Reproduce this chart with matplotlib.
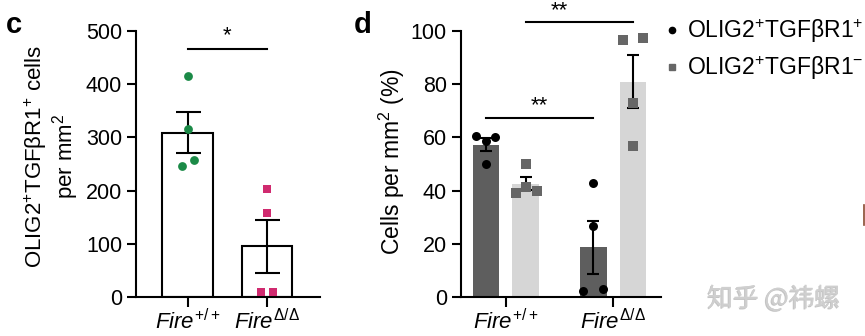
import matplotlib
matplotlib.use("Agg")
import matplotlib.pyplot as plt
import matplotlib.patheffects as pe
import numpy as np
from matplotlib.lines import Line2D

plt.rcParams['font.family'] = ['Liberation Sans', 'DejaVu Sans']
plt.rcParams['mathtext.fontset'] = 'custom'
plt.rcParams['mathtext.rm'] = 'Liberation Sans'
plt.rcParams['mathtext.it'] = 'Liberation Sans:italic'
plt.rcParams['mathtext.bf'] = 'Liberation Sans:bold'

# ---- data: panel c ----
genotypes = [r"$\mathit{Fire}^{+/+}$", r"$\mathit{Fire}^{\Delta/\Delta}$"]
c_wt = [416, 315, 257, 247]
c_ko = [203, 157, 10, 10]
c_jitter = [[0, 0, 0.08, -0.075], [0, 0, -0.075, 0.075]]
c_yticks = [0, 100, 200, 300, 400, 500]

# ---- data: panel d ----
d_pos_wt = [60.5, 58.5, 60.0, 50.0]      # OLIG2+TGFbR1+ , Fire+/+
d_neg_wt = [50.0, 41.3, 39.0, 40.0]      # OLIG2+TGFbR1- , Fire+/+
d_pos_ko = [42.7, 26.8, 2.1, 2.9]        # OLIG2+TGFbR1+ , Fire d/d
d_neg_ko = [96.6, 97.5, 72.8, 56.9]      # OLIG2+TGFbR1- , Fire d/d
d_jitter = [[-0.095, 0, 0.085, 0], [0, 0, -0.095, 0.1],
            [0, 0, -0.095, 0.088], [-0.095, 0.088, 0, 0]]
d_yticks = [0, 20, 40, 60, 80, 100]
legend_labels = [r"OLIG2$^{+}$TGFβR1$^{+}$", r"OLIG2$^{+}$TGFβR1$^{-}$"]


def sem(v):
    v = np.asarray(v, float)
    return v.std(ddof=1) / np.sqrt(len(v))


W, H = 865, 336
fig = plt.figure(figsize=(W / 100, H / 100), dpi=100)
fs_tick = 15.5
fs_x = 16
fs_lab = 16
lw = 1.5


def style_axes(ax, yticks):
    for s in ['top', 'right']:
        ax.spines[s].set_visible(False)
    for s in ['left', 'bottom']:
        ax.spines[s].set_linewidth(lw)
    ax.set_yticks(yticks)
    ax.tick_params(axis='y', width=lw, length=6.5, labelsize=fs_tick, pad=3.5)
    ax.tick_params(axis='x', width=lw, length=7, labelsize=fs_x, pad=1.5)


# ---------------- panel c ----------------
axc = fig.add_axes([136 / W, 1 - 297 / H, (320 - 136) / W, (297 - 31) / H])
groups_c = [c_wt, c_ko]
colors_c = ['#1b8a47', '#d02a6f']
markers_c = ['o', 's']
xs = np.arange(2)
for i, vals in enumerate(groups_c):
    m = np.mean(vals)
    axc.bar(xs[i], m, width=0.63, facecolor='white', edgecolor='black',
            linewidth=lw, zorder=1)
    axc.errorbar(xs[i], m, yerr=sem(vals), color='black', capsize=9,
                 capthick=lw, elinewidth=lw, zorder=2)
    axc.scatter(xs[i] + np.array(c_jitter[i]), vals, s=40,
                marker=markers_c[i], color=colors_c[i], linewidths=0, zorder=3)
axc.set_xlim(-0.648, 1.667)
axc.set_ylim(0, 500)
axc.set_xticks(xs)
axc.set_xticklabels(genotypes)
style_axes(axc, c_yticks)
fig.text(52 / W, 1 - 156 / H, "OLIG2$^{+}$TGFβR1$^{+}$ cells\nper mm$^{2}$",
         fontsize=fs_lab, rotation=90, ha='center', va='center',
         multialignment='center', linespacing=1.05)
axc.plot([0, 1], [467, 467], color='black', lw=lw, clip_on=False)
axc.text(0.5, 471, "*", ha='center', va='bottom', fontsize=fs_lab)

# ---------------- panel d ----------------
axd = fig.add_axes([460.7 / W, 1 - 297 / H, 200 / W, (297 - 31) / H])
off = 0.185
bw = 0.249
dark, light = '#5e5e5e', '#d6d6d6'
series = [(0 - off, d_pos_wt, dark, 'o', 'black'),
          (0 + off, d_neg_wt, light, 's', '#666666'),
          (1 - off, d_pos_ko, dark, 'o', 'black'),
          (1 + off, d_neg_ko, light, 's', '#666666')]
for j, (x, vals, bc, mk, mc) in enumerate(series):
    m = np.mean(vals)
    axd.bar(x, m, width=bw, color=bc, linewidth=0, zorder=1)
    axd.errorbar(x, m, yerr=sem(vals), color='black', capsize=4.5,
                 capthick=lw, elinewidth=lw, zorder=2)
    axd.scatter(x + np.array(d_jitter[j]), vals, s=42, marker=mk, color=mc,
                linewidths=0, zorder=3, clip_on=False)
axd.set_xlim(-0.422, 1.442)
axd.set_ylim(0, 100)
axd.set_xticks(xs)
axd.set_xticklabels(genotypes)
style_axes(axd, d_yticks)
fig.text(392 / W, 1 - 162 / H, "Cells per mm$^{2}$ (%)", fontsize=fs_lab + 0.5,
         rotation=90, ha='center', va='center')

axd.plot([-off, 1 - off], [67.2, 67.2], color='black', lw=lw, clip_on=False)
axd.text(0.5 - off, 68.0, "**", ha='center', va='bottom', fontsize=fs_lab)
axd.plot([off, 1 + off], [103.5, 103.5], color='black', lw=lw, clip_on=False)
# upper comparison: label hugs the top edge of the figure
fig.text((460.7 + 0.5 * 107.3 + 45.3) / W, 1 - 0.5 / H, "**", ha='center',
         va='top', fontsize=fs_lab)

handles = [Line2D([], [], ls='none', marker='o', color='black', markersize=4.5),
           Line2D([], [], ls='none', marker='s', color='#666666', markersize=4.5)]
fig.legend(handles, legend_labels, loc='upper left',
           bbox_to_anchor=(664 / W, 1 - 17 / H), frameon=False, fontsize=16.5,
           handlelength=0.7, handletextpad=0.3, labelspacing=0.4,
           borderaxespad=0, borderpad=0)

# panel letters
fig.text(6 / W, 1 - 33 / H, "c", fontsize=21, fontweight='bold', va='baseline')
fig.text(354 / W, 1 - 33 / H, "d", fontsize=21, fontweight='bold', va='baseline')

# site watermark
fig.text(774 / W, 1 - 299 / H, "知乎 @祎螺", fontsize=18.5, color='#cfcfcf',
         ha='center', va='center', family=['Noto Sans CJK SC', 'DejaVu Sans'],
         path_effects=[pe.withSimplePatchShadow(offset=(-0.8, -0.8),
                                                shadow_rgbFace='#8a8a8a',
                                                alpha=0.5),
                       pe.Normal()])
fig.add_artist(Line2D([863.5 / W, 863.5 / W], [1 - 205 / H, 1 - 225 / H],
                      color='#8a4a30', lw=1.2))

fig.savefig("out.png", dpi=100)
